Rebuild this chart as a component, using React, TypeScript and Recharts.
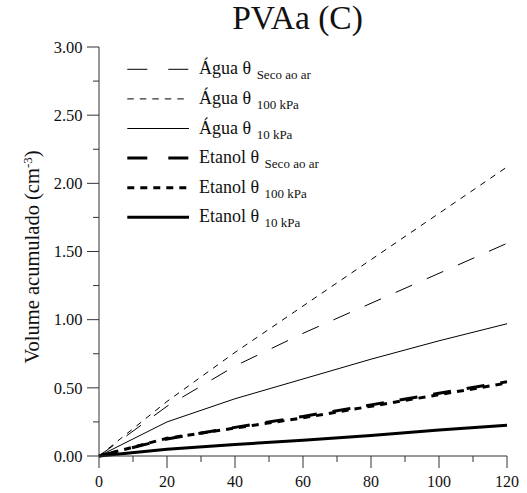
import React from 'react';
import { LineChart, Line, XAxis, YAxis, Customized } from 'recharts';

const minutes = [0, 20, 40, 60, 80, 100, 120];
const aguaSeco = [0, 0.365, 0.66, 0.9, 1.12, 1.34, 1.56];
const agua100 = [0, 0.4, 0.76, 1.1, 1.44, 1.78, 2.12];
const agua10 = [0, 0.25, 0.42, 0.565, 0.71, 0.845, 0.97];
const etanolSeco = [0, 0.125, 0.21, 0.29, 0.375, 0.46, 0.545];
const etanol100 = [0, 0.13, 0.205, 0.28, 0.365, 0.45, 0.535];
const etanol10 = [0, 0.05, 0.085, 0.115, 0.15, 0.19, 0.225];

const xTicks = [0, 10, 20, 30, 40, 50, 60, 70, 80, 90, 100, 110, 120];
const yTicks = [0, 0.25, 0.5, 0.75, 1, 1.25, 1.5, 1.75, 2, 2.25, 2.5, 2.75, 3];

const title = 'PVAa (C)';
const yLabel = 'Volume acumulado (cm';

const seriesLabels = ['Água θ', 'Água θ', 'Água θ', 'Etanol θ', 'Etanol θ', 'Etanol θ'];
const seriesSubs = ['Seco ao ar', '100 kPa', '10 kPa', 'Seco ao ar', '100 kPa', '10 kPa'];
const seriesKeys = ['aguaSeco', 'agua100', 'agua10', 'etanolSeco', 'etanol100', 'etanol10'];
const seriesValues = [aguaSeco, agua100, agua10, etanolSeco, etanol100, etanol10];

const styles = [
  { dash: '18 16', legendDash: '20 21', width: 1 },
  { dash: '6 6', legendDash: '6.5 6', width: 1 },
  { dash: undefined, legendDash: undefined, width: 1 },
  { dash: '18 16', legendDash: '20 21', width: 3 },
  { dash: '7 6', legendDash: '7 6', width: 3 },
  { dash: undefined, legendDash: undefined, width: 3 },
];

const data = minutes.map((m, i) => {
  const row: Record<string, number> = { t: m };
  seriesKeys.forEach((k, j) => {
    row[k] = seriesValues[j][i];
  });
  return row;
});

const FONT = "'Liberation Serif', serif";
const AXIS = '#333';

const txt = (size: number): React.CSSProperties => ({ fontFamily: FONT, fontSize: size, fill: '#111' });

const XTick = (props: any) => {
  const { x, y, payload } = props;
  const v = payload.value;
  const major = v % 20 === 0;
  return (
    <g>
      <line x1={x} y1={y} x2={x} y2={y + (major ? 12 : 6)} stroke={AXIS} strokeWidth={1} />
      {major && (
        <text x={x} y={y + 31} textAnchor="middle" style={txt(16)}>
          {v}
        </text>
      )}
    </g>
  );
};

const YTick = (props: any) => {
  const { x, y, payload } = props;
  const v = payload.value;
  const major = Math.abs(v * 2 - Math.round(v * 2)) < 1e-6;
  return (
    <g>
      <line x1={x} y1={y} x2={x - (major ? 12 : 6)} y2={y} stroke={AXIS} strokeWidth={1} />
      {major && (
        <text x={x - 16.5} y={y} dy="0.35em" textAnchor="end" style={txt(16.5)}>
          {v.toFixed(2)}
        </text>
      )}
    </g>
  );
};

const Overlay = () => (
  <g>
    <text x={297.5} y={28.5} textAnchor="middle" style={txt(33.5)}>
      {title}
    </text>
    <text x={38.5} y={257} transform="rotate(-90 38.5 257)" textAnchor="middle" style={txt(20.5)}>
      {yLabel}
      <tspan dy={-7} style={{ fontSize: 13 }}>-3</tspan>
      <tspan dy={7}>)</tspan>
    </text>
    {seriesLabels.map((lab, i) => {
      const ry = 69.3 + i * 29.6;
      const st = styles[i];
      return (
        <g key={i}>
          <line
            x1={127.3}
            x2={189}
            y1={ry}
            y2={ry}
            stroke="#000"
            strokeWidth={st.width}
            strokeDasharray={st.legendDash}
          />
          <text x={199} y={ry + 5} style={txt(18)}>
            {lab + ' '}
            <tspan dx={1} dy={5} style={{ fontSize: 13 }}>{seriesSubs[i]}</tspan>
          </text>
        </g>
      );
    })}
  </g>
);

export default function App() {
  return (
    <div style={{ position: 'absolute', left: 0, top: 0, background: '#fff' }}>
      <LineChart width={527} height={493} data={data} margin={{ top: 47, right: 20, left: 0, bottom: 0 }}>
        <XAxis
          dataKey="t"
          type="number"
          domain={[0, 120]}
          ticks={xTicks}
          interval={0}
          height={37}
          tickSize={0}
          tickMargin={0}
          tick={<XTick />}
          axisLine={{ stroke: AXIS, strokeWidth: 1 }}
          tickLine={false}
        />
        <YAxis
          type="number"
          domain={[0, 3]}
          ticks={yTicks}
          interval={0}
          width={99}
          tickSize={0}
          tickMargin={0}
          tick={<YTick />}
          axisLine={{ stroke: AXIS, strokeWidth: 1 }}
          tickLine={false}
        />
        {seriesKeys.map((k, i) => (
          <Line
            key={k}
            dataKey={k}
            type="linear"
            stroke="#000"
            strokeWidth={styles[i].width}
            strokeDasharray={styles[i].dash}
            dot={false}
            activeDot={false}
            isAnimationActive={false}
          />
        ))}
        <Customized component={Overlay} />
      </LineChart>
    </div>
  );
}
